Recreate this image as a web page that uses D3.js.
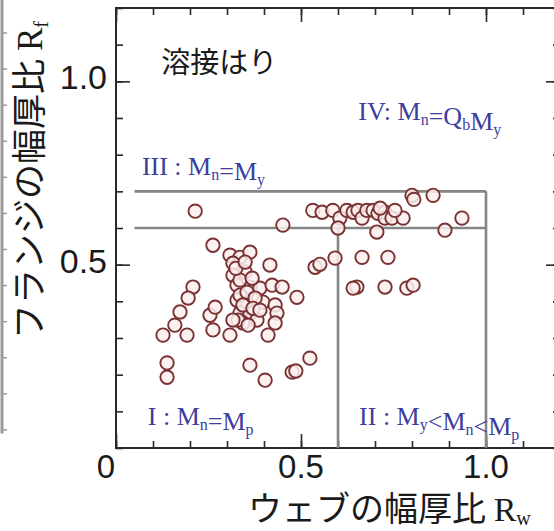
<!DOCTYPE html>
<html>
<head>
<meta charset="utf-8">
<script src="https://cdn.jsdelivr.net/npm/d3@7/dist/d3.min.js"></script>
<style>
  html, body { margin: 0; padding: 0; background: #fff; }
  svg { display: block; }
</style>
</head>
<body>
<svg id="chart" width="554" height="531"></svg>
<script>
// Welded beams: web width-thickness ratio Rw vs flange width-thickness ratio Rf
// Specimens grouped by where they fall in the classification diagram.
const highFlange = [
  [0.214, 0.646], [0.451, 0.608], [0.532, 0.648], [0.557, 0.643], [0.586, 0.648],
  [0.605, 0.627], [0.600, 0.600], [0.624, 0.648], [0.641, 0.643], [0.654, 0.648],
  [0.665, 0.627], [0.678, 0.648], [0.695, 0.648], [0.708, 0.640], [0.727, 0.643],
  [0.727, 0.627], [0.705, 0.589], [0.746, 0.627], [0.776, 0.627], [0.800, 0.689],
  [0.805, 0.678], [0.857, 0.689], [0.889, 0.594], [0.935, 0.627], [0.754, 0.648],
  [0.714, 0.654]
];
const midWeb = [
  [0.538, 0.493], [0.551, 0.501], [0.592, 0.518], [0.665, 0.520], [0.735, 0.520],
  [0.651, 0.439], [0.641, 0.436], [0.727, 0.439], [0.786, 0.436], [0.803, 0.444]
];
const compact = [
  [0.262, 0.553], [0.308, 0.526], [0.335, 0.520], [0.362, 0.534], [0.316, 0.504],
  [0.349, 0.480], [0.316, 0.471], [0.416, 0.499], [0.327, 0.444], [0.362, 0.439],
  [0.389, 0.436], [0.422, 0.444], [0.449, 0.439], [0.489, 0.411], [0.208, 0.439],
  [0.195, 0.409], [0.173, 0.371], [0.159, 0.335], [0.127, 0.308], [0.192, 0.308],
  [0.254, 0.362], [0.268, 0.384], [0.262, 0.322], [0.308, 0.308], [0.327, 0.403],
  [0.354, 0.395], [0.335, 0.368], [0.362, 0.368], [0.343, 0.341], [0.381, 0.349],
  [0.397, 0.398], [0.430, 0.390], [0.435, 0.368], [0.430, 0.341], [0.411, 0.308],
  [0.335, 0.417], [0.354, 0.425], [0.376, 0.409], [0.343, 0.390], [0.370, 0.381],
  [0.330, 0.349], [0.357, 0.335], [0.316, 0.349], [0.389, 0.376], [0.335, 0.458],
  [0.324, 0.490], [0.349, 0.507], [0.368, 0.463]
];
const lowFlange = [
  [0.138, 0.232], [0.138, 0.193], [0.362, 0.226], [0.403, 0.185], [0.476, 0.207],
  [0.486, 0.210], [0.524, 0.245]
];

// Class boundaries (Rw, Rf)
const boundaries = [
  [[0.05, 0.7], [1.0, 0.7]],
  [[0.05, 0.6], [1.0, 0.6]],
  [[0.6, 0.6], [0.6, 0.0]],
  [[1.0, 0.7], [1.0, 0.0]]
];

const xMajor = [0, 0.5, 1.0];
const xLabels = ["0", "0.5", "1.0"];
const yMajor = [0.5, 1.0];
const yLabels = ["0.5", "1.0"];
const minorTicks = d3.range(0, 1.201, 0.1);

// Region labels: [main, subscript] runs
const regions = [
  { at: [0.07, 0.744], runs: [["III : M", "n"], ["=M", "y"]] },
  { at: [0.655, 0.894], runs: [["IV: M", "n"], ["=Q", "b"], ["M", "y"]] },
  { at: [0.086, 0.063], runs: [["I : M", "n"], ["=M", "p"]] },
  { at: [0.657, 0.063], runs: [["II : M", "y"], ["<M", "n"], ["<M", "p"]] }
];

const svg = d3.select("#chart");
const x = d3.scaleLinear().domain([0, 1.2]).range([116, 560]);
const y = d3.scaleLinear().domain([0, 1.2]).range([448, 8]);

// Edge of the neighbouring panel
const ny = d3.scaleLinear().domain([0, 1.2]).range([466, 33]);
const strip = svg.append("g").attr("transform", "translate(2,0)");
strip.append("line").attr("x1", 0).attr("x2", 0)
  .attr("y1", ny(1.3)).attr("y2", ny(0.09))
  .attr("stroke", "#9a9a9a").attr("stroke-width", 3);
strip.selectAll("line.t").data(d3.range(0.1, 1.21, 0.1)).join("line")
  .attr("class", "t").attr("x1", 0).attr("x2", 5)
  .attr("y1", d => ny(d)).attr("y2", d => ny(d))
  .attr("stroke", "#9a9a9a").attr("stroke-width", 1.5);

// Frame
svg.append("rect")
  .attr("x", x(0)).attr("y", y(1.2))
  .attr("width", x(1.2) - x(0)).attr("height", y(0) - y(1.2))
  .attr("fill", "none").attr("stroke", "#2a2a2a").attr("stroke-width", 2);

function ticks(axis, tx, ty) {
  const g = svg.append("g").attr("transform", `translate(${tx},${ty})`).call(axis);
  g.select(".domain").remove();
  g.selectAll(".tick line").attr("stroke", "#2a2a2a").attr("stroke-width", 1.6);
  g.selectAll(".tick text").remove();
  return g;
}
const H = y(0), T = y(1.2), L = x(0), R = x(1.2);
ticks(d3.axisBottom(x).tickValues(minorTicks).tickSize(-7), 0, H);
ticks(d3.axisBottom(x).tickValues(xMajor).tickSize(-14), 0, H);
ticks(d3.axisTop(x).tickValues(minorTicks).tickSize(-7), 0, T);
ticks(d3.axisTop(x).tickValues(xMajor).tickSize(-14), 0, T);
ticks(d3.axisLeft(y).tickValues(minorTicks).tickSize(-7), L, 0);
ticks(d3.axisLeft(y).tickValues(yMajor).tickSize(-14), L, 0);
ticks(d3.axisRight(y).tickValues(minorTicks).tickSize(-7), R, 0);
ticks(d3.axisRight(y).tickValues(yMajor).tickSize(-14), R, 0);

// Tick labels
const numFont = "'Liberation Sans', Arial, sans-serif";
svg.append("g").selectAll("text").data(xMajor).join("text")
  .attr("x", (d, i) => x(d) + (i === 0 ? -10 : 0))
  .attr("y", H + 30)
  .attr("text-anchor", "middle")
  .attr("font-family", numFont).attr("font-size", 33).attr("fill", "#1a1a1a")
  .text((d, i) => xLabels[i]);
svg.append("g").selectAll("text").data(yMajor).join("text")
  .attr("x", L - 9)
  .attr("y", d => y(d) + 8)
  .attr("text-anchor", "end")
  .attr("font-family", numFont).attr("font-size", 34).attr("fill", "#1a1a1a")
  .text((d, i) => yLabels[i]);

// Boundaries
svg.append("g").selectAll("line").data(boundaries).join("line")
  .attr("x1", d => x(d[0][0])).attr("y1", d => y(d[0][1]))
  .attr("x2", d => x(d[1][0])).attr("y2", d => y(d[1][1]))
  .attr("stroke", "#858585").attr("stroke-width", 2.6);

// Specimens
const allPoints = [].concat(highFlange, midWeb, compact, lowFlange);
svg.append("g").selectAll("circle").data(allPoints).join("circle")
  .attr("cx", d => x(d[0])).attr("cy", d => y(d[1]))
  .attr("r", 6.7)
  .attr("fill", "#fbeeee").attr("fill-opacity", 0.85)
  .attr("stroke", "#7a3232").attr("stroke-width", 1.9);

// Region labels
const serif = "'Liberation Serif', 'Times New Roman', serif";
regions.forEach(r => {
  const t = svg.append("text")
    .attr("x", x(r.at[0])).attr("y", y(r.at[1]))
    .attr("font-family", serif).attr("font-size", 26).attr("fill", "#3d3d9e");
  r.runs.forEach(([main, sub]) => {
    t.append("tspan").attr("dy", 0).text(main);
    t.append("tspan").attr("font-size", 16).attr("dy", 5).text(sub);
    t.append("tspan").attr("font-size", 26).attr("dy", -5).text("");
  });
});

// Panel caption
const cjk = "'Noto Sans CJK JP', 'Noto Sans', sans-serif";
svg.append("text")
  .attr("x", x(0.122)).attr("y", y(1.024))
  .attr("font-family", cjk).attr("font-size", 29).attr("fill", "#1a1a1a")
  .text("溶接はり");

// Axis titles
const xt = svg.append("text")
  .attr("x", 248).attr("y", 521)
  .attr("font-family", cjk).attr("font-size", 34).attr("fill", "#1a1a1a");
xt.append("tspan").text("ウェブの幅厚比 ");
xt.append("tspan").attr("font-family", serif).text("R");
xt.append("tspan").attr("font-family", serif).attr("font-size", 20).attr("dy", 4).text("w");

const yt = svg.append("text")
  .attr("transform", "translate(42,180) rotate(-90)")
  .attr("text-anchor", "middle")
  .attr("font-family", cjk).attr("font-size", 35).attr("fill", "#1a1a1a");
yt.append("tspan").text("フランジの幅厚比 ");
yt.append("tspan").attr("font-family", serif).text("R");
yt.append("tspan").attr("font-family", serif).attr("font-size", 20).attr("dy", 6).text("f");
</script>
</body>
</html>
